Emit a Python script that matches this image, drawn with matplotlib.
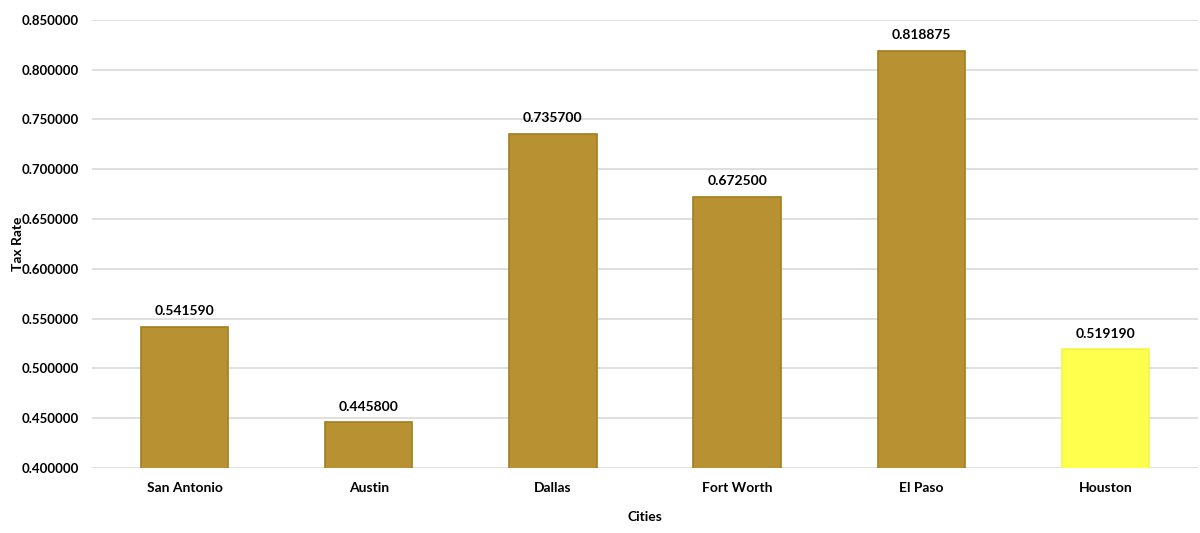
import matplotlib
matplotlib.use("Agg")
import matplotlib.pyplot as plt
from matplotlib.ticker import MultipleLocator, FormatStrFormatter

# ----------------------------
# Data
# ----------------------------
cities = ["San Antonio", "Austin", "Dallas", "Fort Worth", "El Paso", "Houston"]
tax_rates = [0.541590, 0.445800, 0.735700, 0.672500, 0.818875, 0.519190]
highlight = "Houston"

plt.rcParams["font.family"] = ["Lato", "DejaVu Sans"]

fig = plt.figure(figsize=(12, 5.33), dpi=100)
ax = fig.add_axes([0.077, 0.122, 0.921, 0.841])

fills = ["#FFFF4D" if c == highlight else "#B89232" for c in cities]
edges = ["#F5F54A" if c == highlight else "#A27F1C" for c in cities]
bars = ax.bar(cities, tax_rates, width=0.475, color=fills, edgecolor=edges,
              linewidth=1.2, zorder=3)

for b, v in zip(bars, tax_rates):
    ax.annotate(f"{v:.6f}", (b.get_x() + b.get_width() / 2, v),
                xytext=(0, 7), textcoords="offset points",
                ha="center", va="bottom", fontsize=10, fontweight="bold")

ax.set_ylim(0.4, 0.85)
ax.set_xlim(-0.5, len(cities) - 0.5)
ax.yaxis.set_major_locator(MultipleLocator(0.05))
ax.yaxis.set_major_formatter(FormatStrFormatter("%.6f"))
ax.grid(axis="y", color="#D9D9D9", linewidth=1.2, zorder=0)
for s in ax.spines.values():
    s.set_visible(False)
ax.tick_params(axis="x", length=0, labelsize=10, pad=10)
ax.tick_params(axis="y", length=0, labelsize=9.5, pad=10)
for lbl in ax.get_xticklabels() + ax.get_yticklabels():
    lbl.set_fontweight("bold")

ax.set_xlabel("Cities", fontsize=10, fontweight="bold", labelpad=12)
ax.set_ylabel("Tax Rate", fontsize=10, fontweight="bold")
ax.yaxis.set_label_coords(-0.062, 0.5)

fig.savefig("out.png", dpi=100)
